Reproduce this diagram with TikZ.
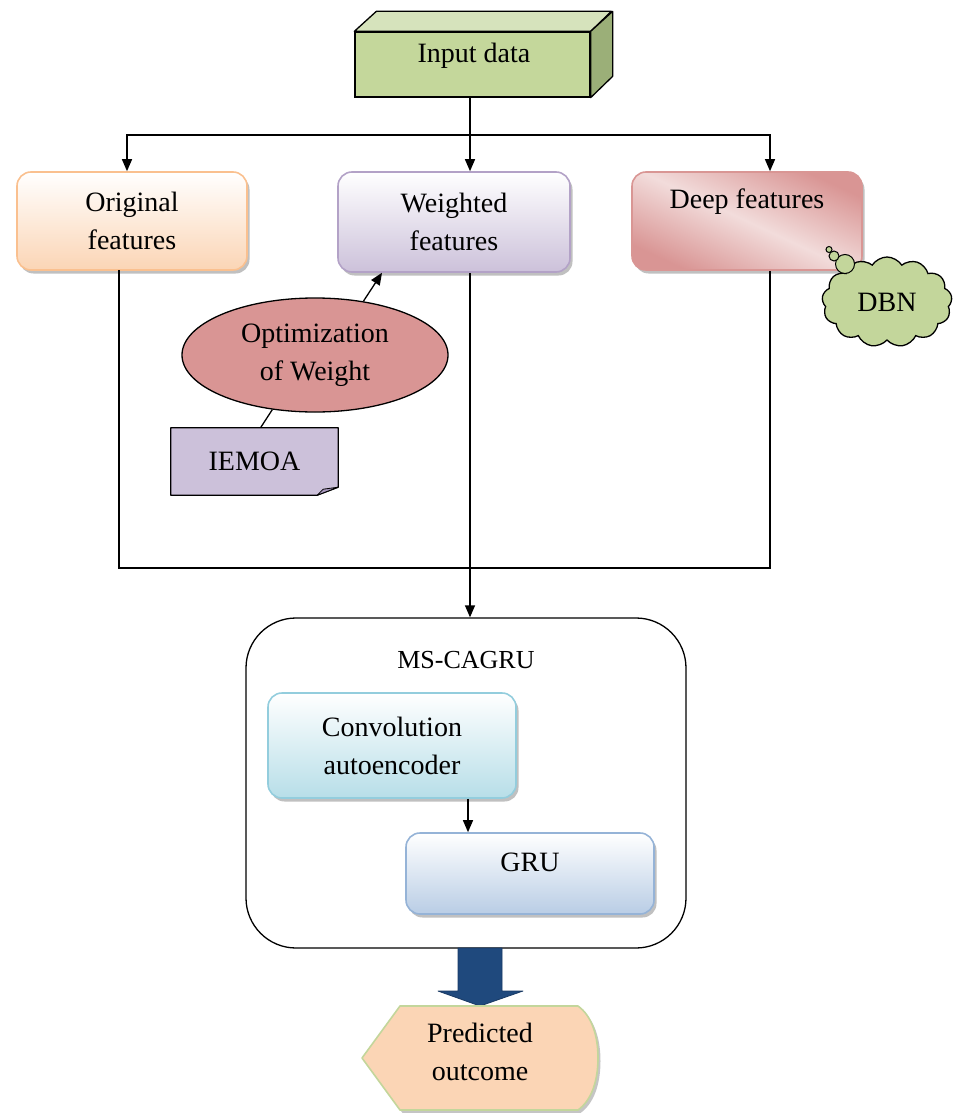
\documentclass[tikz,border=0pt]{standalone}
\usepackage{fontspec}
\setmainfont{Liberation Serif}
\usetikzlibrary{arrows.meta,shapes.geometric,shapes.symbols,shadows,calc}

\definecolor{infront}{HTML}{C4D79B}
\definecolor{intop}{HTML}{D6E3BC}
\definecolor{inside}{HTML}{9BAF78}
\definecolor{origborder}{HTML}{FAC08F}
\definecolor{origfill}{HTML}{FBD5B5}
\definecolor{wfborder}{HTML}{B3A2C7}
\definecolor{wffill}{HTML}{CCC1DA}
\definecolor{dfborder}{HTML}{D99694}
\definecolor{dffill}{HTML}{D99594}
\definecolor{dflight}{HTML}{F2DCDB}
\definecolor{cloudfill}{HTML}{C3D69B}
\definecolor{ellfill}{HTML}{D99594}
\definecolor{notefill}{HTML}{CCC1DA}
\definecolor{notefold}{HTML}{A898BE}
\definecolor{caborder}{HTML}{93CDDD}
\definecolor{cafill}{HTML}{B7DEE8}
\definecolor{gruborder}{HTML}{95B3D7}
\definecolor{grufill}{HTML}{B9CDE5}
\definecolor{bigblue}{HTML}{1F497D}
\definecolor{predfill}{HTML}{FBD5B5}
\definecolor{predborder}{HTML}{C3D69B}

\begin{document}
\begin{tikzpicture}[x=1pt,y=-1pt,
  font=\fontsize{28}{38}\selectfont,
  box/.style={rounded corners=14pt, line width=1.6pt, align=center,
    minimum width=230pt, minimum height=98pt, inner sep=0pt,
    drop shadow={shadow xshift=2.5pt, shadow yshift=-3.5pt, fill=black!45, opacity=0.55}},
  ln/.style={line width=1.3pt},
  arr/.style={line width=1.3pt, -{Triangle[length=12pt,width=10pt]}},
  bubble/.style={circle, draw, line width=1pt, fill=cloudfill, inner sep=0pt}]

\useasboundingbox (0,0) rectangle (953,1113);

% ---- input block (3-D box) ----
\node[draw, ln, fill=infront, minimum width=235pt, minimum height=65pt, inner sep=0pt] (in) at (472.5,64.5) {};
\draw[ln, line join=round, fill=intop] (in.north west) -- ++(22,-20) -- ++(235,0) -- (in.north east) -- cycle;
\draw[ln, line join=round, fill=inside] (in.north east) -- ++(22,-20) -- ++(0,65) -- (in.south east) -- cycle;
\node (inlabel) at (474,56) {Input data};

% ---- feature blocks ----
\node[box, draw=origborder, top color=white, bottom color=origfill] (of) at (132,221) {Original\\features};
\node[box, draw=wfborder, top color=white, bottom color=wffill, minimum width=232pt, minimum height=100pt] (wf) at (454,222) {Weighted\\features};
\node[box, draw=dfborder, left color=dffill, right color=dffill, middle color=dflight, shading angle=155] (df) at (747,221) {};
\node (dflabel) at (747,202) {Deep features};

% ---- DBN thought cloud ----
\node[cloud, cloud puffs=13, cloud puff arc=115, aspect=1.5, draw, line width=1.3pt, fill=cloudfill,
      minimum width=130pt, minimum height=90pt, inner sep=0pt] (dbn) at (887,302) {DBN};
\node[bubble, minimum size=19pt] (b3) at (845,264) {};
\node[bubble, minimum size=10pt] (b2) at (834,256) {};
\node[bubble, minimum size=6pt] (b1) at (829,249.5) {};

% ---- weight optimisation ----
\node[ellipse, draw, ln, fill=ellfill, minimum width=266pt, minimum height=114pt, align=center, inner sep=0pt] (opt) at (315,355) {Optimization\\of Weight};
\node[minimum width=167pt, minimum height=67pt, inner sep=0pt] (iem) at (254.5,461.5) {};
\draw[ln, line join=round, fill=notefill] (iem.north west) -- (iem.north east) -- ($(iem.south east)+(0,-8)$)
   -- ($(iem.south east)+(-21,0)$) -- (iem.south west) -- cycle;
\draw[line width=0.8pt, line join=round, fill=notefold] ($(iem.south east)+(0,-8)$) -- ($(iem.south east)+(-21,0)$)
   -- ($(iem.south east)+(-15,-6)$) -- cycle;
\node (iemlabel) at (iem) {IEMOA};

\coordinate (wfin) at ($(wf.south)+(-72,0)$);
\draw[arr] (opt.48) -- (wfin);
\draw[ln] (opt.232) -- ($(iem.north)+(6,0)$);

% ---- connectors from the input ----
\coordinate (col) at (470,0);
\coordinate (ocol) at (127,0);
\coordinate (dcol) at (770,0);
\coordinate (split) at (470,135);
\draw[arr] (col |- in.south) -- (col |- wf.north);
\draw[arr] (split) -| (ocol |- of.north);
\draw[arr] (split) -| (dcol |- df.north);

% ---- MS-CAGRU block ----
\node[draw, ln, rounded corners=50pt, minimum width=440pt, minimum height=330pt, inner sep=0pt] (ms) at (466,783) {};
\node[font=\fontsize{26}{30}\selectfont] (mslabel) at (466,660) {MS-CAGRU};
\node[box, draw=caborder, top color=white, bottom color=cafill, minimum width=248pt, minimum height=105pt] (cae) at (392,745.5) {Convolution\\autoencoder};
\node[box, draw=gruborder, top color=white, bottom color=grufill, minimum width=248pt, minimum height=81pt] (gru) at (530,873.5) {};
\node (grulabel) at (530,862) {GRU};
\coordinate (cg) at ($(cae.south)+(76,0)$);
\draw[arr] (cg) -- (cg |- gru.north);

% ---- features into MS-CAGRU ----
\coordinate (ob) at (119,270);
\coordinate (bus) at (0,568);
\draw[ln] (ob) -- (ob |- bus) -| (dcol |- df.south);
\draw[arr] (col |- wf.south) -- (col |- ms.north);

% ---- output ----
\draw[fill=bigblue, draw=bigblue!80!black, line width=0.8pt, line join=round]
  (458,948) -- (502,948) -- (502,991) -- (523,991) -- (480,1006) -- (438,991) -- (458,991) -- cycle;
\draw[line width=1.6pt, draw=predborder, fill=predfill, line join=round,
      drop shadow={shadow xshift=2.5pt, shadow yshift=-3pt, fill=black!45, opacity=0.5}]
  (400,1006) -- (578,1006) .. controls (592,1016) and (598,1036) .. (598,1058)
  .. controls (598,1080) and (592,1100) .. (578,1110) -- (400,1110) -- (362,1058) -- cycle;
\node[align=center] (pred) at (480,1052) {Predicted\\outcome};

\end{tikzpicture}
\end{document}
